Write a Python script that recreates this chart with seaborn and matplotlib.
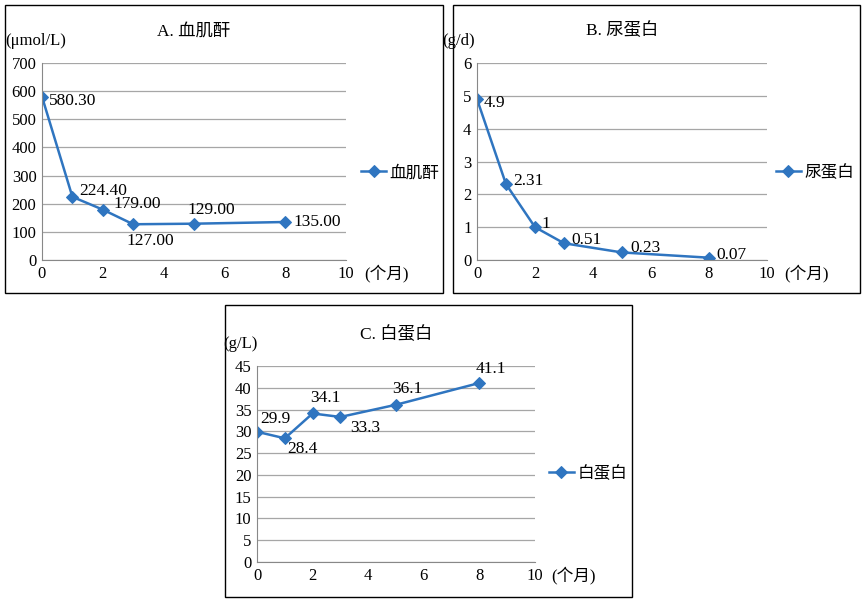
import matplotlib
matplotlib.use("Agg")
import matplotlib.pyplot as plt
import seaborn as sns
import pandas as pd
from matplotlib.patches import Rectangle

plt.rcParams["font.family"] = ["Liberation Serif", "Noto Sans CJK SC"]

months = [0, 1, 2, 3, 5, 8]
creat = [580.30, 224.40, 179.00, 127.00, 129.00, 135.00]
creat_labels = ["580.30", "224.40", "179.00", "127.00", "129.00", "135.00"]
prot = [4.9, 2.31, 1, 0.51, 0.23, 0.07]
prot_labels = ["4.9", "2.31", "1", "0.51", "0.23", "0.07"]
alb = [29.9, 28.4, 34.1, 33.3, 36.1, 41.1]
alb_labels = ["29.9", "28.4", "34.1", "33.3", "36.1", "41.1"]

W, H = 868, 603
fig = plt.figure(figsize=(W / 100, H / 100), dpi=100)
color = "#2F75C0"

def box(x0, y0, x1, y1):
    fig.patches.append(Rectangle((x0 / W, 1 - y1 / H), (x1 - x0) / W, (y1 - y0) / H,
                                 transform=fig.transFigure, fill=False, edgecolor="black", lw=1))

def ax_at(x0, y0, x1, y1):
    return fig.add_axes([x0 / W, 1 - y1 / H, (x1 - x0) / W, (y1 - y0) / H])

def panel(rect, yvals, labels, ymax, ystep, name, title, unit, offsets, legpos):
    ax = ax_at(*rect)
    df = pd.DataFrame({"m": months, "v": yvals})
    sns.lineplot(data=df, x="m", y="v", ax=ax, color=color, marker="D", markersize=6,
                 markeredgecolor=color, lw=1.8, label=name, legend=False)
    ax.set_xlim(0, 10)
    ax.set_ylim(0, ymax)
    ax.set_xticks(range(0, 11, 2))
    ax.set_yticks([i * ystep for i in range(int(round(ymax / ystep)) + 1)])
    ax.yaxis.grid(True, color="#A6A6A6", lw=0.9)
    ax.set_axisbelow(True)
    for s in ["top", "right"]:
        ax.spines[s].set_visible(False)
    ax.spines["left"].set_color("#888888")
    ax.spines["bottom"].set_color("#888888")
    ax.tick_params(length=0, labelsize=12, pad=4)
    ax.set_xlabel("")
    ax.set_ylabel("")
    for x, y, t, (dx, dy) in zip(months, yvals, labels, offsets):
        ax.annotate(t, (x, y), xytext=(dx, dy), textcoords="offset points",
                    fontsize=12.5, ha="left", va="center")
    ax.text(0.5, 1.14, title, transform=ax.transAxes, ha="center", fontsize=12.5)
    ax.text(-0.12, 1.09, unit, transform=ax.transAxes, ha="left", fontsize=12)
    ax.text(1.06, -0.07, "(个月)", transform=ax.transAxes, ha="left", va="center", fontsize=12)
    ax.legend(loc="center left", bbox_to_anchor=legpos, frameon=False, fontsize=12,
              handlelength=1.5, handletextpad=0.2, borderaxespad=0, borderpad=0)
    return ax

box(5, 5, 443, 293)
box(453, 5, 860, 293)
box(225, 305, 632, 597)

panel((42, 63, 346, 260), creat, creat_labels, 700, 100, "血肌酐", "A. 血肌酐", "(μmol/L)",
      [(5, -3), (5, 4), (8, 4), (-5, -12), (-5, 10), (6, 0)], (1.05, 0.44))
panel((477, 63, 767, 260), prot, prot_labels, 6, 1, "尿蛋白", "B. 尿蛋白", "(g/d)",
      [(5, -3), (5, 2), (5, 2), (5, 2), (6, 3), (5, 2)], (1.03, 0.44))
panel((257, 366, 535, 562), alb, alb_labels, 45, 5, "白蛋白", "C. 白蛋白", "(g/L)",
      [(2, 9), (2, -8), (-2, 11), (7, -8), (-3, 11), (-3, 10)], (1.05, 0.45))

fig.savefig("out.png", dpi=100)
